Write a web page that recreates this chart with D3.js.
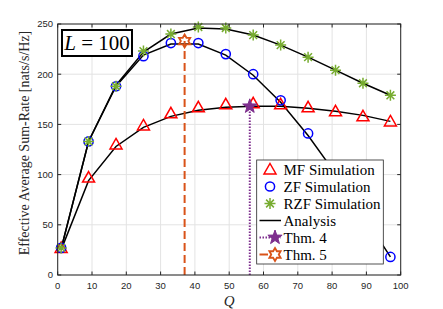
<!DOCTYPE html>
<html>
<head>
<meta charset="utf-8">
<script src="https://cdn.jsdelivr.net/npm/d3@7"></script>
<style>
  body { margin: 0; background: #fff; }
  svg { display: block; }
</style>
</head>
<body>
<svg id="chart" width="443" height="309"></svg>
<script>
const qValues = [1, 9, 17, 25, 33, 41, 49, 57, 65, 73, 81, 89, 97];

const mfSim  = [27, 97, 130, 149, 161, 167, 170, 171, 170, 167, 163, 158, 153];
const zfSim  = [27, 133, 188, 218, 231, 231, 220, 200, 174, 141, 102, 60, 18];
const rzfSim = [27, 133, 188, 223, 240, 247, 246, 239, 229, 217, 204, 191, 179];

const mfAna  = [25, 94, 128, 147, 158, 164, 167, 168, 168, 166, 163, 159, 153];
const zfAna  = [26, 133, 188, 219, 230, 230, 219, 199, 172, 139, 101, 60, 18];
const rzfAna = [26, 133, 189, 222, 240, 246, 245, 239, 229, 217, 204, 191, 179];

const thm4 = { q: 56, rate: 168 };
const thm5 = { q: 37, rate: 233 };

const xTicks = [0, 10, 20, 30, 40, 50, 60, 70, 80, 90, 100];
const yTicks = [0, 50, 100, 150, 200, 250];

const legendLabels = ["MF Simulation", "ZF Simulation", "RZF Simulation", "Analysis", "Thm. 4", "Thm. 5"];

const red = "#ff0000", blue = "#0000ff", green = "#77ac30";
const purple = "#7e2f8e", orange = "#d95319", axisCol = "#262626";

const svg = d3.select("#chart");
const x = d3.scaleLinear().domain([0, 100]).range([57.7, 400.7]);
const y = d3.scaleLinear().domain([0, 250]).range([275, 24]);

// grid
const grid = svg.append("g").attr("stroke", "#e3e3e3").attr("stroke-width", 1);
xTicks.forEach(t => grid.append("line")
  .attr("x1", x(t)).attr("x2", x(t)).attr("y1", y(0)).attr("y2", y(250)));
yTicks.forEach(t => grid.append("line")
  .attr("x1", x(0)).attr("x2", x(100)).attr("y1", y(t)).attr("y2", y(t)));

// analysis curves
const line = d3.line().x(d => x(d[0])).y(d => y(d[1]));
[mfAna, zfAna, rzfAna].forEach(vals => {
  svg.append("path")
    .attr("d", line(qValues.map((q, i) => [q, vals[i]])))
    .attr("fill", "none")
    .attr("stroke", "#000")
    .attr("stroke-width", 1.5);
});

// marker shapes
function triangle(g, cx, cy) {
  g.append("path")
    .attr("d", `M${cx},${cy - 6} L${cx + 6},${cy + 4.5} L${cx - 6},${cy + 4.5} Z`)
    .attr("fill", "none").attr("stroke", red).attr("stroke-width", 1.5);
}
function circle(g, cx, cy) {
  g.append("circle").attr("cx", cx).attr("cy", cy).attr("r", 4.6)
    .attr("fill", "none").attr("stroke", blue).attr("stroke-width", 1.5);
}
function asterisk(g, cx, cy) {
  const r = 5.5, d = r * 0.707;
  g.append("path")
    .attr("d", `M${cx - r},${cy}H${cx + r}M${cx},${cy - r}V${cy + r}` +
      `M${cx - d},${cy - d}L${cx + d},${cy + d}M${cx - d},${cy + d}L${cx + d},${cy - d}`)
    .attr("stroke", green).attr("stroke-width", 1.5).attr("fill", "none");
}
function pentagram(g, cx, cy) {
  const pts = d3.range(10).map(i => {
    const a = -Math.PI / 2 + i * Math.PI / 5;
    const r = i % 2 === 0 ? 7.5 : 3;
    return [cx + r * Math.cos(a), cy + r * Math.sin(a)];
  });
  g.append("path").attr("d", "M" + pts.join("L") + "Z")
    .attr("fill", purple).attr("stroke", purple).attr("stroke-width", 1);
}
function hexagram(g, cx, cy) {
  const pts = d3.range(12).map(i => {
    const a = -Math.PI / 2 + i * Math.PI / 6;
    const r = i % 2 === 0 ? 6.5 : 3.75;
    return [cx + r * Math.cos(a), cy + r * Math.sin(a)];
  });
  g.append("path").attr("d", "M" + pts.join("L") + "Z")
    .attr("fill", "none").attr("stroke", orange).attr("stroke-width", 1.8);
}

// simulation markers
const marks = svg.append("g");
qValues.forEach((q, i) => triangle(marks, x(q), y(mfSim[i])));
qValues.forEach((q, i) => circle(marks, x(q), y(zfSim[i])));
qValues.forEach((q, i) => asterisk(marks, x(q), y(rzfSim[i])));

// theorem lines
svg.append("line")
  .attr("x1", x(thm4.q)).attr("x2", x(thm4.q)).attr("y1", y(0)).attr("y2", y(thm4.rate))
  .attr("stroke", purple).attr("stroke-width", 2).attr("stroke-dasharray", "1.5,1.5");
pentagram(svg, x(thm4.q), y(thm4.rate));
svg.append("line")
  .attr("x1", x(thm5.q)).attr("x2", x(thm5.q)).attr("y1", y(0)).attr("y2", y(thm5.rate))
  .attr("stroke", orange).attr("stroke-width", 2).attr("stroke-dasharray", "8,4");
hexagram(svg, x(thm5.q), y(thm5.rate));

// axes box
const box = svg.append("g").attr("stroke", axisCol).attr("stroke-width", 1).attr("fill", "none");
box.append("rect").attr("x", x(0)).attr("y", y(250))
  .attr("width", x(100) - x(0)).attr("height", y(0) - y(250));
xTicks.forEach(t => {
  box.append("line").attr("x1", x(t)).attr("x2", x(t)).attr("y1", y(0)).attr("y2", y(0) - 3.5);
  box.append("line").attr("x1", x(t)).attr("x2", x(t)).attr("y1", y(250)).attr("y2", y(250) + 3.5);
});
yTicks.forEach(t => {
  box.append("line").attr("x1", x(0)).attr("x2", x(0) + 3.5).attr("y1", y(t)).attr("y2", y(t));
  box.append("line").attr("x1", x(100)).attr("x2", x(100) - 3.5).attr("y1", y(t)).attr("y2", y(t));
});

// tick labels
const tickFont = "'Liberation Sans', Arial, sans-serif";
svg.append("g").selectAll("text").data(xTicks).join("text")
  .attr("x", d => x(d)).attr("y", 289)
  .attr("text-anchor", "middle")
  .attr("fill", axisCol)
  .style("font-family", tickFont).style("font-size", "9.5px")
  .text(d => d);
svg.append("g").selectAll("text").data(yTicks).join("text")
  .attr("x", 53).attr("y", d => y(d) + 3.4)
  .attr("text-anchor", "end")
  .attr("fill", axisCol)
  .style("font-family", tickFont).style("font-size", "9.5px")
  .text(d => d);

// axis titles
const serif = "'Liberation Serif', 'Times New Roman', serif";
svg.append("text")
  .attr("transform", "translate(29,143) rotate(-90)")
  .attr("text-anchor", "middle")
  .attr("fill", axisCol)
  .style("font-family", serif).style("font-size", "14px")
  .text("Effective Average Sum-Rate [nats/s/Hz]");
svg.append("text")
  .attr("x", x(50)).attr("y", 305.5)
  .attr("text-anchor", "middle")
  .attr("fill", axisCol)
  .style("font-family", serif).style("font-size", "15px").style("font-style", "italic")
  .text("Q");

// legend
const lg = svg.append("g");
lg.append("rect").attr("x", 256.7).attr("y", 160).attr("width", 126.6).attr("height", 104)
  .attr("fill", "#fff").attr("stroke", axisCol).attr("stroke-width", 0.8);
const rowY = i => 169.5 + i * 17;
legendLabels.forEach((lab, i) => {
  lg.append("text").attr("x", 283.5).attr("y", rowY(i) + 5)
    .attr("fill", "#000")
    .style("font-family", serif).style("font-size", "15px")
    .text(lab);
});
triangle(lg, 270, rowY(0));
circle(lg, 270, rowY(1));
asterisk(lg, 270, rowY(2));
lg.append("line").attr("x1", 259.5).attr("x2", 281).attr("y1", rowY(3)).attr("y2", rowY(3))
  .attr("stroke", "#000").attr("stroke-width", 1.5);
lg.append("line").attr("x1", 259.5).attr("x2", 281).attr("y1", rowY(4)).attr("y2", rowY(4))
  .attr("stroke", purple).attr("stroke-width", 2).attr("stroke-dasharray", "1.5,1.5");
pentagram(lg, 275, rowY(4));
lg.append("line").attr("x1", 259.5).attr("x2", 281).attr("y1", rowY(5)).attr("y2", rowY(5))
  .attr("stroke", orange).attr("stroke-width", 2);
lg.append("rect").attr("x", 268).attr("y", rowY(5) - 7).attr("width", 14).attr("height", 14).attr("fill", "#fff");
hexagram(lg, 275, rowY(5));

// L = 100 annotation
const ann = svg.append("g");
ann.append("rect").attr("x", 62).attr("y", 30).attr("width", 70).attr("height", 26)
  .attr("fill", "#fff").attr("stroke", "#000").attr("stroke-width", 2);
const annText = ann.append("text").attr("x", 97).attr("y", 50)
  .attr("text-anchor", "middle").attr("fill", "#000")
  .style("font-family", serif).style("font-size", "21px");
annText.append("tspan").style("font-style", "italic").text("L");
annText.append("tspan").text(" = 100");
</script>
</body>
</html>
